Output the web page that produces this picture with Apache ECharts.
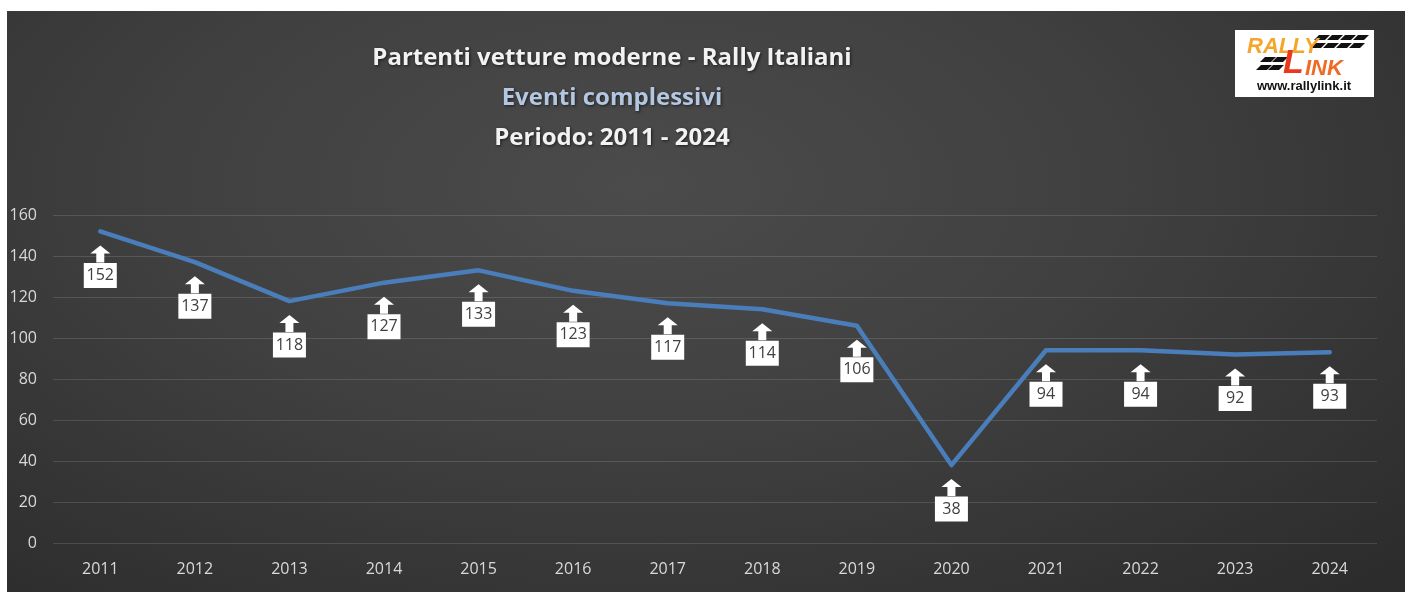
<!DOCTYPE html>
<html>
<head>
<meta charset="utf-8">
<title>Partenti vetture moderne - Rally Italiani</title>
<script src="https://cdn.jsdelivr.net/npm/echarts@6/dist/echarts.min.js"></script>
<style>
html, body { margin: 0; padding: 0; background: #ffffff; }
#bg {
    position: absolute; left: 7px; top: 11px; width: 1398px; height: 581px;
    background: radial-gradient(ellipse 75% 95% at 45% 30%, #4b4b4b 0%, #404040 45%, #2c2c2c 100%);
}
#main { position: absolute; left: 0; top: 0; width: 1405px; height: 594px; }
</style>
</head>
<body>
<div id="bg"></div>
<div id="main"></div>
<script>
/* dati: partenti per anno */
var anni = ['2011', '2012', '2013', '2014', '2015', '2016', '2017', '2018', '2019', '2020', '2021', '2022', '2023', '2024'];
var partenti = [152, 137, 118, 127, 133, 123, 117, 114, 106, 38, 94, 94, 92, 93];
var yMin = 0, yMax = 160, yStep = 20;

var titoloFont = '"Open Sans", "Noto Sans", sans-serif';
var testoFont = '"Open Sans", "Noto Sans", sans-serif';

// freccia bianca sotto ogni punto
var freccia = 'path://M10,0 L20,8 L14,8 L14,17 L6,17 L6,8 L0,8 Z';

// trattini neri del logo
function trattini(x0, y0, n, passo) {
    var out = [];
    for (var i = 0; i < n; i++) {
        var x = x0 + i * passo;
        out.push({
            type: 'polygon',
            shape: { points: [[x, y0], [x + 11, y0], [x + 6, y0 + 5], [x - 5, y0 + 5]] },
            style: { fill: '#111' }
        });
    }
    return out;
}

var logo = {
    type: 'group',
    left: 1235,
    top: 30,
    children: [
        { type: 'rect', shape: { x: 0, y: 0, width: 139, height: 67 }, style: { fill: '#ffffff' } }
    ].concat(trattini(84, 5, 4, 13), trattini(80, 13, 4, 13), trattini(30, 27, 2, 12), trattini(26, 35, 2, 12)).concat([
        {
            type: 'text', x: 12, y: 6,
            style: { text: 'RALLY', font: 'italic bold 22px "Liberation Sans", sans-serif', fill: '#f4a62a' }
        },
        {
            type: 'text', x: 48, y: 17,
            style: { text: 'L', font: 'italic bold 34px "Liberation Sans", sans-serif', fill: '#e8391c' }
        },
        {
            type: 'text', x: 70, y: 28,
            style: { text: 'INK', font: 'italic bold 22px "Liberation Sans", sans-serif', fill: '#ef6a24' }
        },
        {
            type: 'text', x: 69, y: 56,
            style: {
                text: 'www.rallylink.it', font: 'bold 13px "Liberation Sans", sans-serif',
                fill: '#111', align: 'center', verticalAlign: 'middle'
            }
        }
    ])
};

function riga(testo, y, colore, size) {
    return {
        type: 'text', x: 612, y: y,
        style: {
            text: testo, fill: colore, align: 'center', verticalAlign: 'middle',
            font: 'bold ' + size + 'px ' + titoloFont,
            textShadowColor: 'rgba(0,0,0,0.6)', textShadowBlur: 3,
            textShadowOffsetX: 1, textShadowOffsetY: 1
        }
    };
}

var option = {
    animation: false,
    backgroundColor: 'transparent',
    graphic: [
        riga('Partenti vetture moderne - Rally Italiani', 58, '#f2f2f2', 24),
        riga('Eventi complessivi', 98, '#b4c7e0', 24),
        riga('Periodo: 2011 - 2024', 138, '#f2f2f2', 24),
        logo
    ],
    grid: { left: 53, right: 28, top: 215, bottom: 51 },
    xAxis: {
        type: 'category',
        data: anni,
        boundaryGap: true,
        axisLine: { show: false },
        axisTick: { show: false },
        axisLabel: { color: '#d9d9d9', fontSize: 16, fontFamily: testoFont, margin: 18 }
    },
    yAxis: {
        type: 'value',
        min: yMin,
        max: yMax,
        interval: yStep,
        axisLine: { show: false },
        axisTick: { show: false },
        axisLabel: { color: '#d9d9d9', fontSize: 16, fontFamily: testoFont, margin: 16 },
        splitLine: { lineStyle: { color: 'rgba(255,255,255,0.13)', width: 1 } }
    },
    series: [
        {
            name: 'Partenti',
            type: 'line',
            data: partenti,
            symbol: 'circle',
            symbolSize: 2,
            showSymbol: true,
            lineStyle: { color: '#4a7ebb', width: 4.5, cap: 'round', join: 'round' },
            itemStyle: { color: '#4a7ebb' },
            label: {
                show: true,
                position: 'inside',
                offset: [0, 44],
                backgroundColor: '#ffffff',
                color: '#404040',
                fontSize: 16,
                fontFamily: testoFont,
                width: 33,
                height: 25,
                lineHeight: 25,
                align: 'center',
                verticalAlign: 'middle'
            },
            z: 2
        },
        {
            name: 'frecce',
            type: 'scatter',
            data: partenti,
            symbol: freccia,
            symbolSize: [20, 17],
            symbolOffset: [0, 22.5],
            itemStyle: { color: '#ffffff', opacity: 1 },
            silent: true,
            z: 3
        }
    ]
};

var chart = echarts.init(document.getElementById('main'));
chart.setOption(option);
</script>
</body>
</html>
